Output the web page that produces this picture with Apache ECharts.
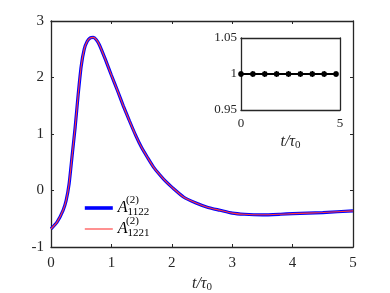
<!DOCTYPE html>
<html><head><meta charset="utf-8">
<script src="https://cdn.jsdelivr.net/npm/echarts@6/dist/echarts.min.js"></script>
<style>html,body{margin:0;padding:0;background:#fff}#c{width:390px;height:293px}</style>
</head><body><div id="c"></div>
<script>
const tValues = [0,0.1,0.2,0.25,0.3,0.35,0.4,0.45,0.5,0.55,0.6,0.65,0.7,0.75,0.8,0.9,1.0,1.1,1.2,1.3,1.4,1.5,1.6,1.7,1.8,1.9,2.0,2.2,2.4,2.6,2.8,3.0,3.2,3.5,3.8,4.0,4.5,5.0];
const a1122 = [-0.68,-0.56,-0.35,-0.18,0.12,0.62,1.12,1.7,2.2,2.5,2.64,2.70,2.71,2.67,2.58,2.32,2.04,1.77,1.49,1.23,0.98,0.76,0.58,0.41,0.28,0.16,0.06,-0.12,-0.22,-0.3,-0.35,-0.4,-0.42,-0.43,-0.42,-0.41,-0.39,-0.36];
const a1221 = [-0.68,-0.56,-0.35,-0.18,0.12,0.62,1.12,1.7,2.2,2.5,2.64,2.70,2.71,2.67,2.58,2.32,2.04,1.77,1.49,1.23,0.98,0.76,0.58,0.41,0.28,0.16,0.06,-0.12,-0.22,-0.3,-0.35,-0.4,-0.42,-0.43,-0.42,-0.41,-0.39,-0.36];
const insetT = [0,0.6,1.2,1.8,2.4,3.0,3.6,4.2,4.8];
const insetV = [1,1,1,1,1,1,1,1,1];
const seriesNames = ['A1122','A1221'];

const serif = 'Liberation Serif';
const axCol = '#262626';
const pair = (xs, ys) => xs.map((x,i)=>[x, ys[i]]);
const nameRich = {
  i:{fontFamily:serif,fontStyle:'italic',fontSize:16,color:axCol},
  s:{fontFamily:serif,fontSize:11,color:axCol,padding:[7,0,0,0]}
};
function frameAxes(gi, xmin, xmax, xint, ymin, ymax, yint, showTicks){
  return {
    x:{type:'value',gridIndex:gi,position:'top',min:xmin,max:xmax,interval:xint,axisLine:{onZero:false,lineStyle:{color:axCol,width:1.3}},axisTick:{show:showTicks,inside:true,length:3,lineStyle:{color:axCol}},axisLabel:{show:false},splitLine:{show:false}},
    y:{type:'value',gridIndex:gi,position:'right',min:ymin,max:ymax,interval:yint,axisLine:{show:true,onZero:false,lineStyle:{color:axCol,width:1.3}},axisTick:{show:showTicks,inside:true,length:3,lineStyle:{color:axCol}},axisLabel:{show:false},splitLine:{show:false}}
  };
}
const f0 = frameAxes(0,0,5,1,-1,3,1,true);
const f1 = frameAxes(1,0,5,5,0.95,1.05,0.05,false);

const chart = echarts.init(document.getElementById('c'));
chart.setOption({
  animation:false,
  backgroundColor:'#fff',
  grid:[
    {left:51,top:21,right:37,bottom:46,containLabel:false,outerBoundsMode:'none'},
    {left:241,top:38,right:50,bottom:183,containLabel:false,outerBoundsMode:'none'}
  ],
  xAxis:[
    {type:'value',gridIndex:0,min:0,max:5,interval:1,
     axisLine:{onZero:false,lineStyle:{color:axCol,width:1.3}},
     axisTick:{inside:true,length:3,lineStyle:{color:axCol}},
     axisLabel:{fontFamily:serif,fontSize:15,color:axCol,margin:9},
     splitLine:{show:false},
     name:'{i|t/τ}{s|0}',nameLocation:'middle',nameGap:28,nameTextStyle:{rich:nameRich}},
    f0.x,
    {type:'value',gridIndex:1,min:0,max:5,interval:5,
     axisLine:{onZero:false,lineStyle:{color:axCol,width:1.3}},
     axisTick:{show:false},
     axisLabel:{fontFamily:serif,fontSize:13,color:axCol,margin:7},
     splitLine:{show:false},
     name:'{i|t/τ}{s|0}',nameLocation:'middle',nameGap:23,nameTextStyle:{rich:nameRich}},
    f1.x
  ],
  yAxis:[
    {type:'value',gridIndex:0,min:-1,max:3,interval:1,
     axisLine:{show:true,onZero:false,lineStyle:{color:axCol,width:1.3}},
     axisTick:{show:true,inside:true,length:3,lineStyle:{color:axCol}},
     axisLabel:{fontFamily:serif,fontSize:15,color:axCol,margin:7},
     splitLine:{show:false}},
    f0.y,
    {type:'value',gridIndex:1,min:0.95,max:1.05,interval:0.05,
     axisLine:{show:true,onZero:false,lineStyle:{color:axCol,width:1.3}},
     axisTick:{show:false},
     axisLabel:{fontFamily:serif,fontSize:13,color:axCol,margin:4,
       formatter:v=>Math.abs(v-1)<1e-9?'1':v.toFixed(2)},
     splitLine:{show:false}},
    f1.y
  ],
  legend:{
    orient:'vertical',left:83,top:200,padding:0,itemWidth:28,itemHeight:10,itemGap:3,
    itemStyle:{opacity:0},
    data:[
      {name:seriesNames[0],lineStyle:{width:3.6,color:'#0000ff'}},
      {name:seriesNames[1],lineStyle:{width:1.3,color:'#ff5555'}}
    ],
    formatter:n=>'{a|A}{b|'+n.slice(1)+'}',
    textStyle:{rich:{
      a:{fontFamily:serif,fontStyle:'italic',fontSize:16,color:'#000'},
      b:{fontFamily:serif,fontSize:11,color:'#000',padding:[9,0,0,0]}
    }}
  },
  graphic:[
    {type:'text',left:126,top:195,style:{text:'(2)',font:'11px "Liberation Serif"',fill:'#000'}},
    {type:'text',left:126,top:216,style:{text:'(2)',font:'11px "Liberation Serif"',fill:'#000'}}
  ],
  series:[
    {name:seriesNames[0],type:'line',xAxisIndex:0,yAxisIndex:0,data:pair(tValues,a1122),
     showSymbol:false,symbol:'none',smooth:0.2,lineStyle:{color:'#0000ff',width:3.2},itemStyle:{color:'#0000ff'}},
    {name:seriesNames[1],type:'line',xAxisIndex:0,yAxisIndex:0,data:pair(tValues,a1221),
     showSymbol:false,symbol:'none',smooth:0.2,lineStyle:{color:'#ff3b3b',width:1.1},itemStyle:{color:'#ff3b3b'}},
    {type:'line',xAxisIndex:2,yAxisIndex:2,data:pair(insetT,insetV),
     symbol:'path://M0,-1L0,1M-1,0L1,0M-0.7,-0.7L0.7,0.7M-0.7,0.7L0.7,-0.7',symbolSize:6,
     itemStyle:{color:'#000',borderColor:'#000',borderWidth:1.6},
     lineStyle:{color:'#000',width:2}}
  ]
});
</script></body></html>
